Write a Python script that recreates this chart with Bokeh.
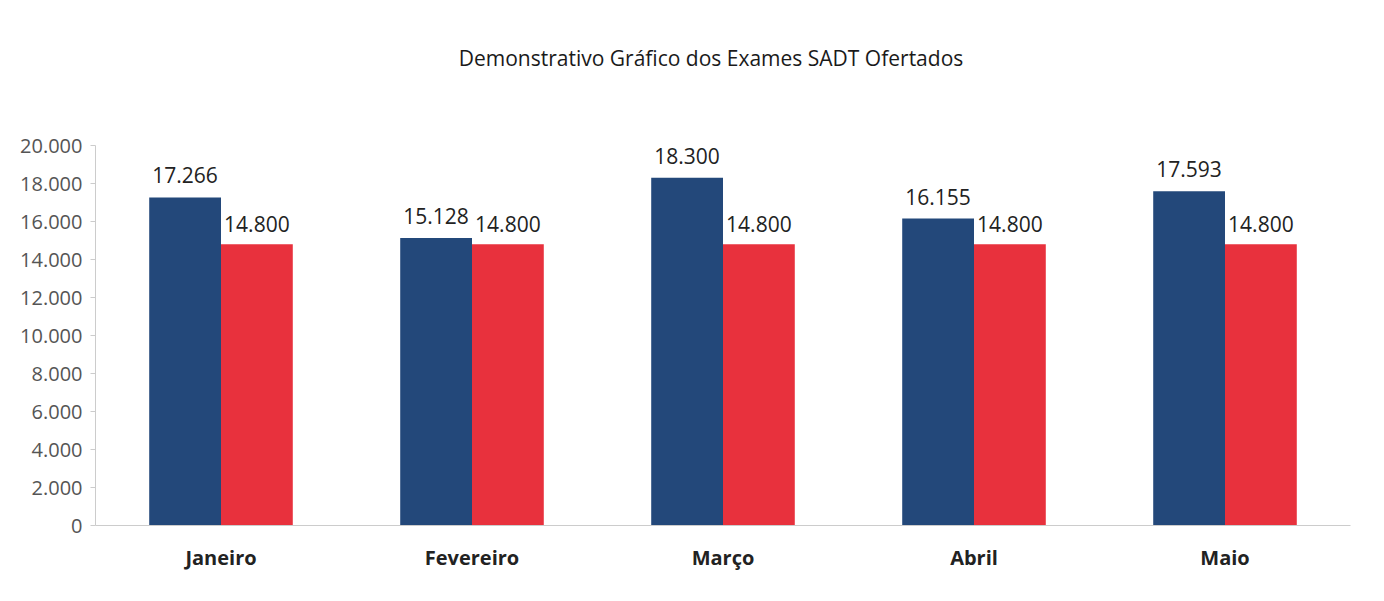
from bokeh.plotting import figure
from bokeh.models import ColumnDataSource, FixedTicker, LabelSet, Label, Range1d
from bokeh.transform import dodge
from bokeh.core.properties import value
from bokeh.embed import file_html
from bokeh.resources import INLINE

months = ["Janeiro", "Fevereiro", "Março", "Abril", "Maio"]
realizados = [17266, 15128, 18300, 16155, 17593]
ofertados = [14800, 14800, 14800, 14800, 14800]
y_ticks = [0, 2000, 4000, 6000, 8000, 10000, 12000, 14000, 16000, 18000, 20000]
title_text = "Demonstrativo Gráfico dos Exames SADT Ofertados"

def fmt(v):
    return f"{v:,}".replace(",", ".")

src = ColumnDataSource(dict(
    m=months, a=realizados, b=ofertados,
    la=[fmt(v) for v in realizados], lb=[fmt(v) for v in ofertados],
))

FONT = "Open Sans"
# frame spans 515 px; the value axis (0..20000) occupies the lower 380 px,
# the space above it holds the chart title
Y_MAX = 20000 * 515 / 380
p = figure(x_range=months, y_range=Range1d(0, Y_MAX), width=1368, height=585,
           output_backend="svg", toolbar_location=None,
           min_border_left=95, min_border_right=18, min_border_top=10, min_border_bottom=60)

p.vbar(x=dodge("m", -0.143, range=p.x_range), top="a", width=0.286, source=src,
       fill_color="#23487a", line_color=None)
p.vbar(x=dodge("m", 0.143, range=p.x_range), top="b", width=0.286, source=src,
       fill_color="#e8313d", line_color=None)

p.add_layout(LabelSet(x=dodge("m", -0.143, range=p.x_range), y="a", text="la", source=src,
                      text_align="center", text_baseline="bottom", y_offset=14,
                      text_font=value(FONT), text_font_size="21px", text_color="#222222"))
p.add_layout(LabelSet(x=dodge("m", 0.143, range=p.x_range), y="b", text="lb", source=src,
                      text_align="center", text_baseline="bottom", y_offset=12,
                      text_font=value(FONT), text_font_size="21px", text_color="#222222"))

# chart title, above the value area, over the centre category
p.add_layout(Label(x=2.5, y=20000, x_offset=-12, y_offset=88, text=title_text,
                   text_align="center", text_baseline="middle",
                   text_font=FONT, text_font_size="21px", text_color="#1a1a1a"))

p.xgrid.grid_line_color = None
p.ygrid.grid_line_color = None

p.yaxis.ticker = FixedTicker(ticks=y_ticks)
p.yaxis.bounds = (0, 20000)
p.yaxis.major_label_overrides = {t: fmt(t) for t in y_ticks}
p.yaxis.major_label_text_font = FONT
p.yaxis.major_label_text_font_size = "20px"
p.yaxis.major_label_text_color = "#555555"
p.yaxis.axis_line_color = "#cccccc"
p.yaxis.major_tick_line_color = "#cccccc"
p.yaxis.major_tick_in = 0
p.yaxis.major_tick_out = 5
p.yaxis.minor_tick_line_color = None
p.yaxis.major_label_standoff = 8

p.xaxis.major_label_text_font = FONT
p.xaxis.major_label_text_font_size = "20px"
p.xaxis.major_label_text_font_style = "bold"
p.xaxis.major_label_text_color = "#222222"
p.xaxis.axis_line_color = "#cccccc"
p.xaxis.major_tick_line_color = None
p.xaxis.minor_tick_line_color = None
p.xaxis.major_label_standoff = 12

p.outline_line_color = None
p.border_fill_color = "white"
p.background_fill_color = "white"

open("out.html", "w").write(file_html(p, INLINE))
